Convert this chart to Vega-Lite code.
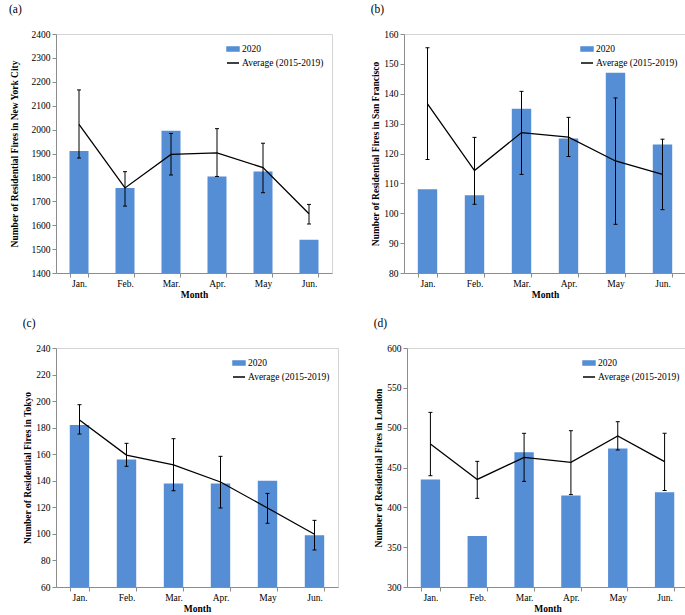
{
  "$schema": "https://vega.github.io/schema/vega-lite/v6.json",
  "padding": {"left": 8, "top": 3, "right": 0, "bottom": 0},
  "datasets": {
    "fires": [
      {"city": "NYC", "month": "Jan.", "v2020": 1910, "avg": 2022, "lo": 1881, "hi": 2166},
      {"city": "NYC", "month": "Feb.", "v2020": 1756, "avg": 1756, "lo": 1680, "hi": 1824},
      {"city": "NYC", "month": "Mar.", "v2020": 1995, "avg": 1896, "lo": 1810, "hi": 1984},
      {"city": "NYC", "month": "Apr.", "v2020": 1804, "avg": 1903, "lo": 1804, "hi": 2004},
      {"city": "NYC", "month": "May", "v2020": 1825, "avg": 1841, "lo": 1736, "hi": 1943},
      {"city": "NYC", "month": "Jun.", "v2020": 1539, "avg": 1648, "lo": 1605, "hi": 1687},
      {"city": "SF", "month": "Jan.", "v2020": 108, "avg": 136.6, "lo": 118, "hi": 155.4},
      {"city": "SF", "month": "Feb.", "v2020": 106, "avg": 114.3, "lo": 103, "hi": 125.4},
      {"city": "SF", "month": "Mar.", "v2020": 135, "avg": 127, "lo": 113, "hi": 140.8},
      {"city": "SF", "month": "Apr.", "v2020": 125, "avg": 125.5, "lo": 119, "hi": 132.1},
      {"city": "SF", "month": "May", "v2020": 147, "avg": 117.5, "lo": 96.3, "hi": 138.6},
      {"city": "SF", "month": "Jun.", "v2020": 123, "avg": 113, "lo": 101.2, "hi": 124.8},
      {"city": "Tokyo", "month": "Jan.", "v2020": 182, "avg": 185.8, "lo": 175.2, "hi": 197.3},
      {"city": "Tokyo", "month": "Feb.", "v2020": 156, "avg": 159.4, "lo": 150.9, "hi": 168.2},
      {"city": "Tokyo", "month": "Mar.", "v2020": 138, "avg": 151.9, "lo": 132.5, "hi": 171.7},
      {"city": "Tokyo", "month": "Apr.", "v2020": 138, "avg": 139.1, "lo": 119.5, "hi": 158.4},
      {"city": "Tokyo", "month": "May", "v2020": 140, "avg": 119.5, "lo": 108, "hi": 130.5},
      {"city": "Tokyo", "month": "Jun.", "v2020": 99, "avg": 99.7, "lo": 87.9, "hi": 110.2},
      {"city": "London", "month": "Jan.", "v2020": 435, "avg": 479.5, "lo": 439.7, "hi": 519.2},
      {"city": "London", "month": "Feb.", "v2020": 364, "avg": 435, "lo": 411.3, "hi": 457.7},
      {"city": "London", "month": "Mar.", "v2020": 469, "avg": 462.8, "lo": 432.6, "hi": 492.9},
      {"city": "London", "month": "Apr.", "v2020": 415, "avg": 456.5, "lo": 416, "hi": 496.2},
      {"city": "London", "month": "May", "v2020": 474, "avg": 489.5, "lo": 472, "hi": 507.5},
      {"city": "London", "month": "Jun.", "v2020": 419, "avg": 457.3, "lo": 421, "hi": 492.9}
    ]
  },
  "data": {"name": "fires"},
  "resolve": {"scale": {"color": "independent"}, "legend": {"color": "independent"}},
  "spacing": 17,
  "vconcat": [
    {
      "spacing": 37,
      "resolve": {"scale": {"color": "independent"}, "legend": {"color": "independent"}},
      "hconcat": [
        {
          "title": {"text": "(a)"},
          "width": 276, "height": 239,
          "transform": [{"filter": "datum.city === 'NYC'"}],
          "encoding": {
            "x": {"field": "month", "type": "nominal", "sort": ["Jan.", "Feb.", "Mar.", "Apr.", "May", "Jun."],
                  "scale": {"paddingInner": 0.587, "paddingOuter": 0.2935},
                  "axis": {"title": "Month", "labelAngle": 0, "tickBand": "extent"}}
          },
          "layer": [
            {"mark": {"type": "bar", "clip": true},
             "encoding": {
               "y": {"field": "v2020", "type": "quantitative", "scale": {"domain": [1400, 2400], "nice": false, "zero": false},
                     "axis": {"title": "Number of Residential Fires in New York City", "values": [1400, 1500, 1600, 1700, 1800, 1900, 2000, 2100, 2200, 2300, 2400], "minExtent": 34, "format": "d", "labelOverlap": false}},
               "color": {"datum": "2020", "type": "nominal",
                         "scale": {"domain": ["2020", "Average (2015-2019)"], "range": ["#558ED5", "#000000"]},
                         "legend": {"orient": "top-right", "offset": 8, "title": null, "padding": 0, "symbolSize": 144, "rowPadding": 1, "labelOffset": 2, "labelFontSize": 9.5, "labelFont": "Liberation Serif", "labelColor": "#000000",
                                    "encode": {"symbols": {"update": {
                                      "shape": {"signal": "datum.value === '2020' ? 'M-1,-0.35H1V0.35H-1Z' : 'stroke'"},
                                      "fill": {"signal": "datum.value === '2020' ? '#558ED5' : 'transparent'"},
                                      "stroke": {"signal": "datum.value === '2020' ? 'transparent' : '#000000'"},
                                      "strokeWidth": {"value": 1.5}, "opacity": {"value": 1}}}}}}
             }},
            {"mark": {"type": "rule", "color": "#000000", "strokeWidth": 1},
             "encoding": {"y": {"field": "lo", "type": "quantitative", "axis": {"title": "Number of Residential Fires in New York City", "values": [1400, 1500, 1600, 1700, 1800, 1900, 2000, 2100, 2200, 2300, 2400], "minExtent": 34, "format": "d", "labelOverlap": false}}, "y2": {"field": "hi"}}},
            {"mark": {"type": "tick", "color": "#000000", "size": 4, "thickness": 1, "opacity": 1},
             "encoding": {"y": {"field": "lo", "type": "quantitative", "axis": {"title": "Number of Residential Fires in New York City", "values": [1400, 1500, 1600, 1700, 1800, 1900, 2000, 2100, 2200, 2300, 2400], "minExtent": 34, "format": "d", "labelOverlap": false}}}},
            {"mark": {"type": "tick", "color": "#000000", "size": 4, "thickness": 1, "opacity": 1},
             "encoding": {"y": {"field": "hi", "type": "quantitative", "axis": {"title": "Number of Residential Fires in New York City", "values": [1400, 1500, 1600, 1700, 1800, 1900, 2000, 2100, 2200, 2300, 2400], "minExtent": 34, "format": "d", "labelOverlap": false}}}},
            {"mark": {"type": "line", "strokeWidth": 1.3},
             "encoding": {"y": {"field": "avg", "type": "quantitative", "axis": {"title": "Number of Residential Fires in New York City", "values": [1400, 1500, 1600, 1700, 1800, 1900, 2000, 2100, 2200, 2300, 2400], "minExtent": 34, "format": "d", "labelOverlap": false}},
                          "color": {"datum": "Average (2015-2019)", "type": "nominal"}}}
          ]
        },
        {
          "title": {"text": "(b)"},
          "width": 282, "height": 239,
          "transform": [{"filter": "datum.city === 'SF'"}],
          "encoding": {
            "x": {"field": "month", "type": "nominal", "sort": ["Jan.", "Feb.", "Mar.", "Apr.", "May", "Jun."],
                  "scale": {"paddingInner": 0.587, "paddingOuter": 0.2935},
                  "axis": {"title": "Month", "labelAngle": 0, "tickBand": "extent"}}
          },
          "layer": [
            {"mark": {"type": "bar", "clip": true},
             "encoding": {
               "y": {"field": "v2020", "type": "quantitative", "scale": {"domain": [80, 160], "nice": false, "zero": false},
                     "axis": {"title": "Number of Residential Fires in San Francisco", "values": [80, 90, 100, 110, 120, 130, 140, 150, 160], "format": "d", "labelOverlap": false}},
               "color": {"datum": "2020", "type": "nominal",
                         "scale": {"domain": ["2020", "Average (2015-2019)"], "range": ["#558ED5", "#000000"]},
                         "legend": {"orient": "top-right", "offset": 8, "title": null, "padding": 0, "symbolSize": 144, "rowPadding": 1, "labelOffset": 2, "labelFontSize": 9.5, "labelFont": "Liberation Serif", "labelColor": "#000000",
                                    "encode": {"symbols": {"update": {
                                      "shape": {"signal": "datum.value === '2020' ? 'M-1,-0.35H1V0.35H-1Z' : 'stroke'"},
                                      "fill": {"signal": "datum.value === '2020' ? '#558ED5' : 'transparent'"},
                                      "stroke": {"signal": "datum.value === '2020' ? 'transparent' : '#000000'"},
                                      "strokeWidth": {"value": 1.5}, "opacity": {"value": 1}}}}}}
             }},
            {"mark": {"type": "rule", "color": "#000000", "strokeWidth": 1},
             "encoding": {"y": {"field": "lo", "type": "quantitative", "axis": {"title": "Number of Residential Fires in San Francisco", "values": [80, 90, 100, 110, 120, 130, 140, 150, 160], "format": "d", "labelOverlap": false}}, "y2": {"field": "hi"}}},
            {"mark": {"type": "tick", "color": "#000000", "size": 4, "thickness": 1, "opacity": 1},
             "encoding": {"y": {"field": "lo", "type": "quantitative", "axis": {"title": "Number of Residential Fires in San Francisco", "values": [80, 90, 100, 110, 120, 130, 140, 150, 160], "format": "d", "labelOverlap": false}}}},
            {"mark": {"type": "tick", "color": "#000000", "size": 4, "thickness": 1, "opacity": 1},
             "encoding": {"y": {"field": "hi", "type": "quantitative", "axis": {"title": "Number of Residential Fires in San Francisco", "values": [80, 90, 100, 110, 120, 130, 140, 150, 160], "format": "d", "labelOverlap": false}}}},
            {"mark": {"type": "line", "strokeWidth": 1.3},
             "encoding": {"y": {"field": "avg", "type": "quantitative", "axis": {"title": "Number of Residential Fires in San Francisco", "values": [80, 90, 100, 110, 120, 130, 140, 150, 160], "format": "d", "labelOverlap": false}},
                          "color": {"datum": "Average (2015-2019)", "type": "nominal"}}}
          ]
        }
      ]
    },
    {
      "spacing": 34,
      "resolve": {"scale": {"color": "independent"}, "legend": {"color": "independent"}},
      "hconcat": [
        {
          "title": {"text": "(c)"},
          "width": 282, "height": 239,
          "transform": [{"filter": "datum.city === 'Tokyo'"}],
          "encoding": {
            "x": {"field": "month", "type": "nominal", "sort": ["Jan.", "Feb.", "Mar.", "Apr.", "May", "Jun."],
                  "scale": {"paddingInner": 0.587, "paddingOuter": 0.2935},
                  "axis": {"title": "Month", "labelAngle": 0, "tickBand": "extent"}}
          },
          "layer": [
            {"mark": {"type": "bar", "clip": true},
             "encoding": {
               "y": {"field": "v2020", "type": "quantitative", "scale": {"domain": [60, 240], "nice": false, "zero": false},
                     "axis": {"title": "Number of Residential Fires in Tokyo", "values": [60, 80, 100, 120, 140, 160, 180, 200, 220, 240], "format": "d", "labelOverlap": false}},
               "color": {"datum": "2020", "type": "nominal",
                         "scale": {"domain": ["2020", "Average (2015-2019)"], "range": ["#558ED5", "#000000"]},
                         "legend": {"orient": "top-right", "offset": 8, "title": null, "padding": 0, "symbolSize": 144, "rowPadding": 1, "labelOffset": 2, "labelFontSize": 9.5, "labelFont": "Liberation Serif", "labelColor": "#000000",
                                    "encode": {"symbols": {"update": {
                                      "shape": {"signal": "datum.value === '2020' ? 'M-1,-0.35H1V0.35H-1Z' : 'stroke'"},
                                      "fill": {"signal": "datum.value === '2020' ? '#558ED5' : 'transparent'"},
                                      "stroke": {"signal": "datum.value === '2020' ? 'transparent' : '#000000'"},
                                      "strokeWidth": {"value": 1.5}, "opacity": {"value": 1}}}}}}
             }},
            {"mark": {"type": "rule", "color": "#000000", "strokeWidth": 1},
             "encoding": {"y": {"field": "lo", "type": "quantitative", "axis": {"title": "Number of Residential Fires in Tokyo", "values": [60, 80, 100, 120, 140, 160, 180, 200, 220, 240], "format": "d", "labelOverlap": false}}, "y2": {"field": "hi"}}},
            {"mark": {"type": "tick", "color": "#000000", "size": 4, "thickness": 1, "opacity": 1},
             "encoding": {"y": {"field": "lo", "type": "quantitative", "axis": {"title": "Number of Residential Fires in Tokyo", "values": [60, 80, 100, 120, 140, 160, 180, 200, 220, 240], "format": "d", "labelOverlap": false}}}},
            {"mark": {"type": "tick", "color": "#000000", "size": 4, "thickness": 1, "opacity": 1},
             "encoding": {"y": {"field": "hi", "type": "quantitative", "axis": {"title": "Number of Residential Fires in Tokyo", "values": [60, 80, 100, 120, 140, 160, 180, 200, 220, 240], "format": "d", "labelOverlap": false}}}},
            {"mark": {"type": "line", "strokeWidth": 1.3},
             "encoding": {"y": {"field": "avg", "type": "quantitative", "axis": {"title": "Number of Residential Fires in Tokyo", "values": [60, 80, 100, 120, 140, 160, 180, 200, 220, 240], "format": "d", "labelOverlap": false}},
                          "color": {"datum": "Average (2015-2019)", "type": "nominal"}}}
          ]
        },
        {
          "title": {"text": "(d)"},
          "width": 281, "height": 239,
          "transform": [{"filter": "datum.city === 'London'"}],
          "encoding": {
            "x": {"field": "month", "type": "nominal", "sort": ["Jan.", "Feb.", "Mar.", "Apr.", "May", "Jun."],
                  "scale": {"paddingInner": 0.587, "paddingOuter": 0.2935},
                  "axis": {"title": "Month", "labelAngle": 0, "tickBand": "extent"}}
          },
          "layer": [
            {"mark": {"type": "bar", "clip": true},
             "encoding": {
               "y": {"field": "v2020", "type": "quantitative", "scale": {"domain": [300, 600], "nice": false, "zero": false},
                     "axis": {"title": "Number of Residential Fires in London", "values": [300, 350, 400, 450, 500, 550, 600], "format": "d", "labelOverlap": false}},
               "color": {"datum": "2020", "type": "nominal",
                         "scale": {"domain": ["2020", "Average (2015-2019)"], "range": ["#558ED5", "#000000"]},
                         "legend": {"orient": "top-right", "offset": 8, "title": null, "padding": 0, "symbolSize": 144, "rowPadding": 1, "labelOffset": 2, "labelFontSize": 9.5, "labelFont": "Liberation Serif", "labelColor": "#000000",
                                    "encode": {"symbols": {"update": {
                                      "shape": {"signal": "datum.value === '2020' ? 'M-1,-0.35H1V0.35H-1Z' : 'stroke'"},
                                      "fill": {"signal": "datum.value === '2020' ? '#558ED5' : 'transparent'"},
                                      "stroke": {"signal": "datum.value === '2020' ? 'transparent' : '#000000'"},
                                      "strokeWidth": {"value": 1.5}, "opacity": {"value": 1}}}}}}
             }},
            {"mark": {"type": "rule", "color": "#000000", "strokeWidth": 1},
             "encoding": {"y": {"field": "lo", "type": "quantitative", "axis": {"title": "Number of Residential Fires in London", "values": [300, 350, 400, 450, 500, 550, 600], "format": "d", "labelOverlap": false}}, "y2": {"field": "hi"}}},
            {"mark": {"type": "tick", "color": "#000000", "size": 4, "thickness": 1, "opacity": 1},
             "encoding": {"y": {"field": "lo", "type": "quantitative", "axis": {"title": "Number of Residential Fires in London", "values": [300, 350, 400, 450, 500, 550, 600], "format": "d", "labelOverlap": false}}}},
            {"mark": {"type": "tick", "color": "#000000", "size": 4, "thickness": 1, "opacity": 1},
             "encoding": {"y": {"field": "hi", "type": "quantitative", "axis": {"title": "Number of Residential Fires in London", "values": [300, 350, 400, 450, 500, 550, 600], "format": "d", "labelOverlap": false}}}},
            {"mark": {"type": "line", "strokeWidth": 1.3},
             "encoding": {"y": {"field": "avg", "type": "quantitative", "axis": {"title": "Number of Residential Fires in London", "values": [300, 350, 400, 450, 500, 550, 600], "format": "d", "labelOverlap": false}},
                          "color": {"datum": "Average (2015-2019)", "type": "nominal"}}}
          ]
        }
      ]
    }
  ],
  "config": {
    "font": "Liberation Serif",
    "view": {"stroke": "#d4d4d4", "strokeWidth": 1},
    "axis": {
      "labelFont": "Liberation Serif", "labelFontSize": 9.5, "labelColor": "#000000",
      "titleFont": "Liberation Serif", "titleFontSize": 9.5, "titleFontWeight": "bold", "titleColor": "#000000",
      "grid": false, "domainColor": "#8c8c8c", "tickColor": "#8c8c8c", "tickSize": 4, "labelPadding": 2, "titlePadding": 3,
      "labelOverlap": false
    },
    "axisX": {"labelPadding": 1, "titlePadding": 2},
    "title": {"font": "Liberation Serif", "fontSize": 11.5, "fontWeight": "normal", "anchor": "start", "frame": "bounds", "offset": 14, "color": "#000000"}
  }
}
